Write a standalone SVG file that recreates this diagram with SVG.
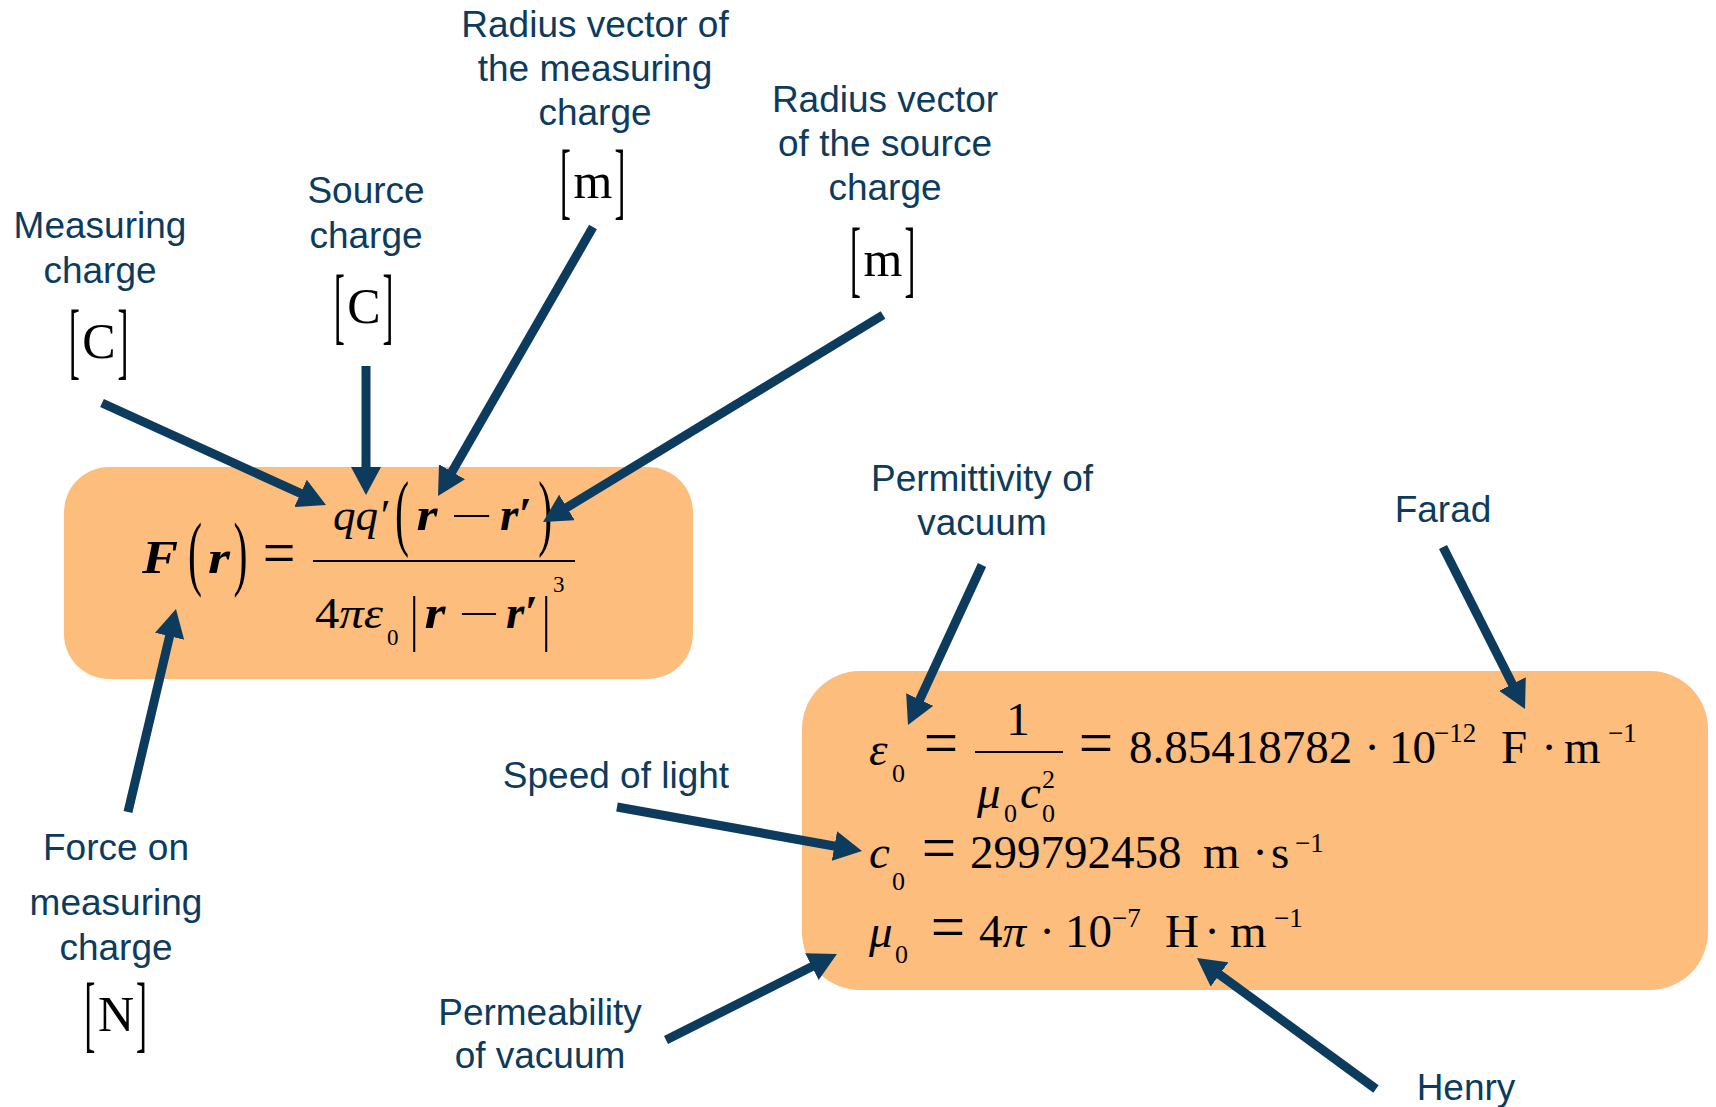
<svg xmlns="http://www.w3.org/2000/svg" width="1716" height="1107" viewBox="0 0 1716 1107">
<style>
.lbl{font-family:"Liberation Sans",Arial,sans-serif;font-size:37px;fill:#0C3B5E;text-anchor:middle}
.m{font-family:"Liberation Serif","DejaVu Serif",serif;fill:#000}
.it{font-style:italic}
.bi{font-style:italic;font-weight:bold}
.c{text-anchor:middle}
.box{fill:#FDBD7D}
.arr{stroke:#0C3B5E;stroke-width:9;fill:none;marker-end:url(#ah)}
</style>
<defs>
<marker id="ah" viewBox="0 0 28 30" refX="8" refY="15" markerWidth="28" markerHeight="30" markerUnits="userSpaceOnUse" orient="auto">
<path d="M0,0 L28,15 L0,30 Z" fill="#0C3B5E"/>
</marker>
</defs>
<rect width="1716" height="1107" fill="#fff"/>

<g id="coulomb-box">
<rect class="box" x="64" y="467" width="629" height="212" rx="45"/>
<g class="m" font-size="42">
<text class="bi c" transform="translate(160,573) scale(1.15,1)" font-size="47">F</text>
<text transform="translate(188.1,580.4) scale(1,1.95)">(</text>
<text class="bi c" transform="translate(219,573) scale(1.2,1)" font-size="47">r</text>
<text transform="translate(233.5,580.4) scale(1,1.95)">)</text>
<text class="c" transform="translate(279,574) scale(1.38,1.5)">=</text>
<text class="it" x="333" y="530" font-size="45">qq′</text>
<text transform="translate(395.1,539.9) scale(1,2.04)">(</text>
<text class="bi c" transform="translate(427,530) scale(1.15,1)" font-size="47">r</text>
<text class="c" transform="translate(471.5,530) scale(1.8,1)">−</text>
<text class="bi" x="500" y="530" font-size="47">r′</text>
<text transform="translate(538.3,539.9) scale(1,2.04)">)</text>
<text x="315" y="628" font-size="44" textLength="68" lengthAdjust="spacingAndGlyphs">4<tspan class="it">πε</tspan></text>
<text x="387" y="645" font-size="23">0</text>
<text transform="translate(410,638.5) scale(1,1.48)">|</text>
<text class="bi c" transform="translate(435,628) scale(1.15,1)" font-size="47">r</text>
<text class="c" transform="translate(479,628) scale(1.75,1)">−</text>
<text class="bi" x="506" y="628" font-size="47">r′</text>
<text transform="translate(542,638.5) scale(1,1.48)">|</text>
<text x="553" y="592" font-size="23">3</text>
</g>
<line x1="313" y1="561" x2="575" y2="561" stroke="#000" stroke-width="2"/>
</g>

<g id="constants-box">
<rect class="box" x="802" y="671" width="906" height="319" rx="58"/>
<g class="m" font-size="47">
<text class="it" x="869" y="765">ε</text>
<text x="892" y="782" font-size="26">0</text>
<text class="c" transform="translate(941,764) scale(1.3,1.35)">=</text>
<text class="c" x="1018" y="735">1</text>
<text class="it" x="977" y="808">μ</text>
<text x="1004" y="822" font-size="26">0</text>
<text class="it" x="1020" y="808">c</text>
<text x="1042" y="822" font-size="26">0</text>
<text x="1042" y="788" font-size="26">2</text>
<text class="c" transform="translate(1096,764) scale(1.3,1.35)">=</text>
<text x="1129" y="763">8.85418782</text>
<text class="c" x="1372" y="763">·</text>
<text x="1389" y="763">10</text>
<text x="1434" y="742" font-size="27">−12</text>
<text x="1501" y="763">F</text>
<text class="c" x="1549" y="763">·</text>
<text x="1564" y="763">m</text>
<text x="1608" y="742" font-size="27">−1</text>

<text class="it" x="869" y="868">c</text>
<text x="892" y="890" font-size="26">0</text>
<text class="c" transform="translate(939,869) scale(1.3,1.35)">=</text>
<text x="970" y="868">299792458</text>
<text x="1203" y="868">m</text>
<text class="c" x="1260" y="868">·</text>
<text x="1271" y="868">s</text>
<text x="1295" y="852" font-size="27">−1</text>

<text class="it" x="869" y="947">μ</text>
<text x="895" y="963" font-size="26">0</text>
<text class="c" transform="translate(948,948) scale(1.3,1.35)">=</text>
<text x="979" y="947">4<tspan class="it">π</tspan></text>
<text class="c" x="1047" y="947">·</text>
<text x="1065" y="947">10</text>
<text x="1112" y="927" font-size="27">−7</text>
<text x="1165" y="947">H</text>
<text class="c" x="1212" y="947">·</text>
<text x="1230" y="947">m</text>
<text x="1274" y="927" font-size="27">−1</text>
</g>
<line x1="975" y1="752" x2="1063" y2="752" stroke="#000" stroke-width="2"/>
</g>

<g id="measuring-charge">
<text class="lbl" x="100" y="238">Measuring</text>
<text class="lbl" x="100" y="283">charge</text>
<g class="m" font-size="50">
<text transform="translate(69.1,368.6) scale(0.65,1.71)">[</text>
<text class="c" x="99" y="358">C</text>
<text transform="translate(117.5,368.6) scale(0.65,1.71)">]</text>
</g>
</g>

<g id="source-charge">
<text class="lbl" x="366" y="203">Source</text>
<text class="lbl" x="366" y="248">charge</text>
<g class="m" font-size="50">
<text transform="translate(334.1,333.6) scale(0.65,1.71)">[</text>
<text class="c" x="364" y="323">C</text>
<text transform="translate(382.5,333.6) scale(0.65,1.71)">]</text>
</g>
</g>

<g id="radius-measuring">
<text class="lbl" x="595" y="37">Radius vector of</text>
<text class="lbl" x="595" y="81">the measuring</text>
<text class="lbl" x="595" y="125">charge</text>
<g class="m" font-size="50">
<text transform="translate(560.1,208.6) scale(0.65,1.71)">[</text>
<text class="c" x="593" y="198">m</text>
<text transform="translate(614.5,208.6) scale(0.65,1.71)">]</text>
</g>
</g>

<g id="radius-source">
<text class="lbl" x="885" y="112">Radius vector</text>
<text class="lbl" x="885" y="156">of the source</text>
<text class="lbl" x="885" y="200">charge</text>
<g class="m" font-size="50">
<text transform="translate(850.1,286.6) scale(0.65,1.71)">[</text>
<text class="c" x="883" y="276">m</text>
<text transform="translate(904.5,286.6) scale(0.65,1.71)">]</text>
</g>
</g>

<g id="force">
<text class="lbl" x="116" y="860">Force on</text>
<text class="lbl" x="116" y="915">measuring</text>
<text class="lbl" x="116" y="960">charge</text>
<g class="m" font-size="50">
<text transform="translate(84.6,1041.6) scale(0.65,1.71)">[</text>
<text class="c" x="116" y="1031">N</text>
<text transform="translate(136,1041.6) scale(0.65,1.71)">]</text>
</g>
</g>

<g id="permittivity">
<text class="lbl" x="982" y="491">Permittivity of</text>
<text class="lbl" x="982" y="535">vacuum</text>
</g>
<g id="farad"><text class="lbl" x="1443" y="522">Farad</text></g>
<g id="speed"><text class="lbl" x="616" y="788">Speed of light</text></g>
<g id="permeability">
<text class="lbl" x="540" y="1025">Permeability</text>
<text class="lbl" x="540" y="1068">of vacuum</text>
</g>
<g id="henry"><text class="lbl" x="1466" y="1100">Henry</text></g>

<g id="connectors">
<line class="arr" x1="102" y1="403" x2="307.8" y2="496.7"/>
<line class="arr" x1="366" y1="366" x2="366" y2="475"/>
<line class="arr" x1="593" y1="227" x2="448" y2="478.7"/>
<line class="arr" x1="883" y1="315" x2="560.1" y2="511.6"/>
<line class="arr" x1="128" y1="812" x2="171.4" y2="628.5"/>
<line class="arr" x1="982" y1="565" x2="916.4" y2="706.8"/>
<line class="arr" x1="1443" y1="547" x2="1516" y2="691.2"/>
<line class="arr" x1="617" y1="807" x2="842.3" y2="847.5"/>
<line class="arr" x1="666" y1="1040" x2="819.1" y2="963"/>
<line class="arr" x1="1376" y1="1089" x2="1213.1" y2="969.8"/>
</g>
</svg>
